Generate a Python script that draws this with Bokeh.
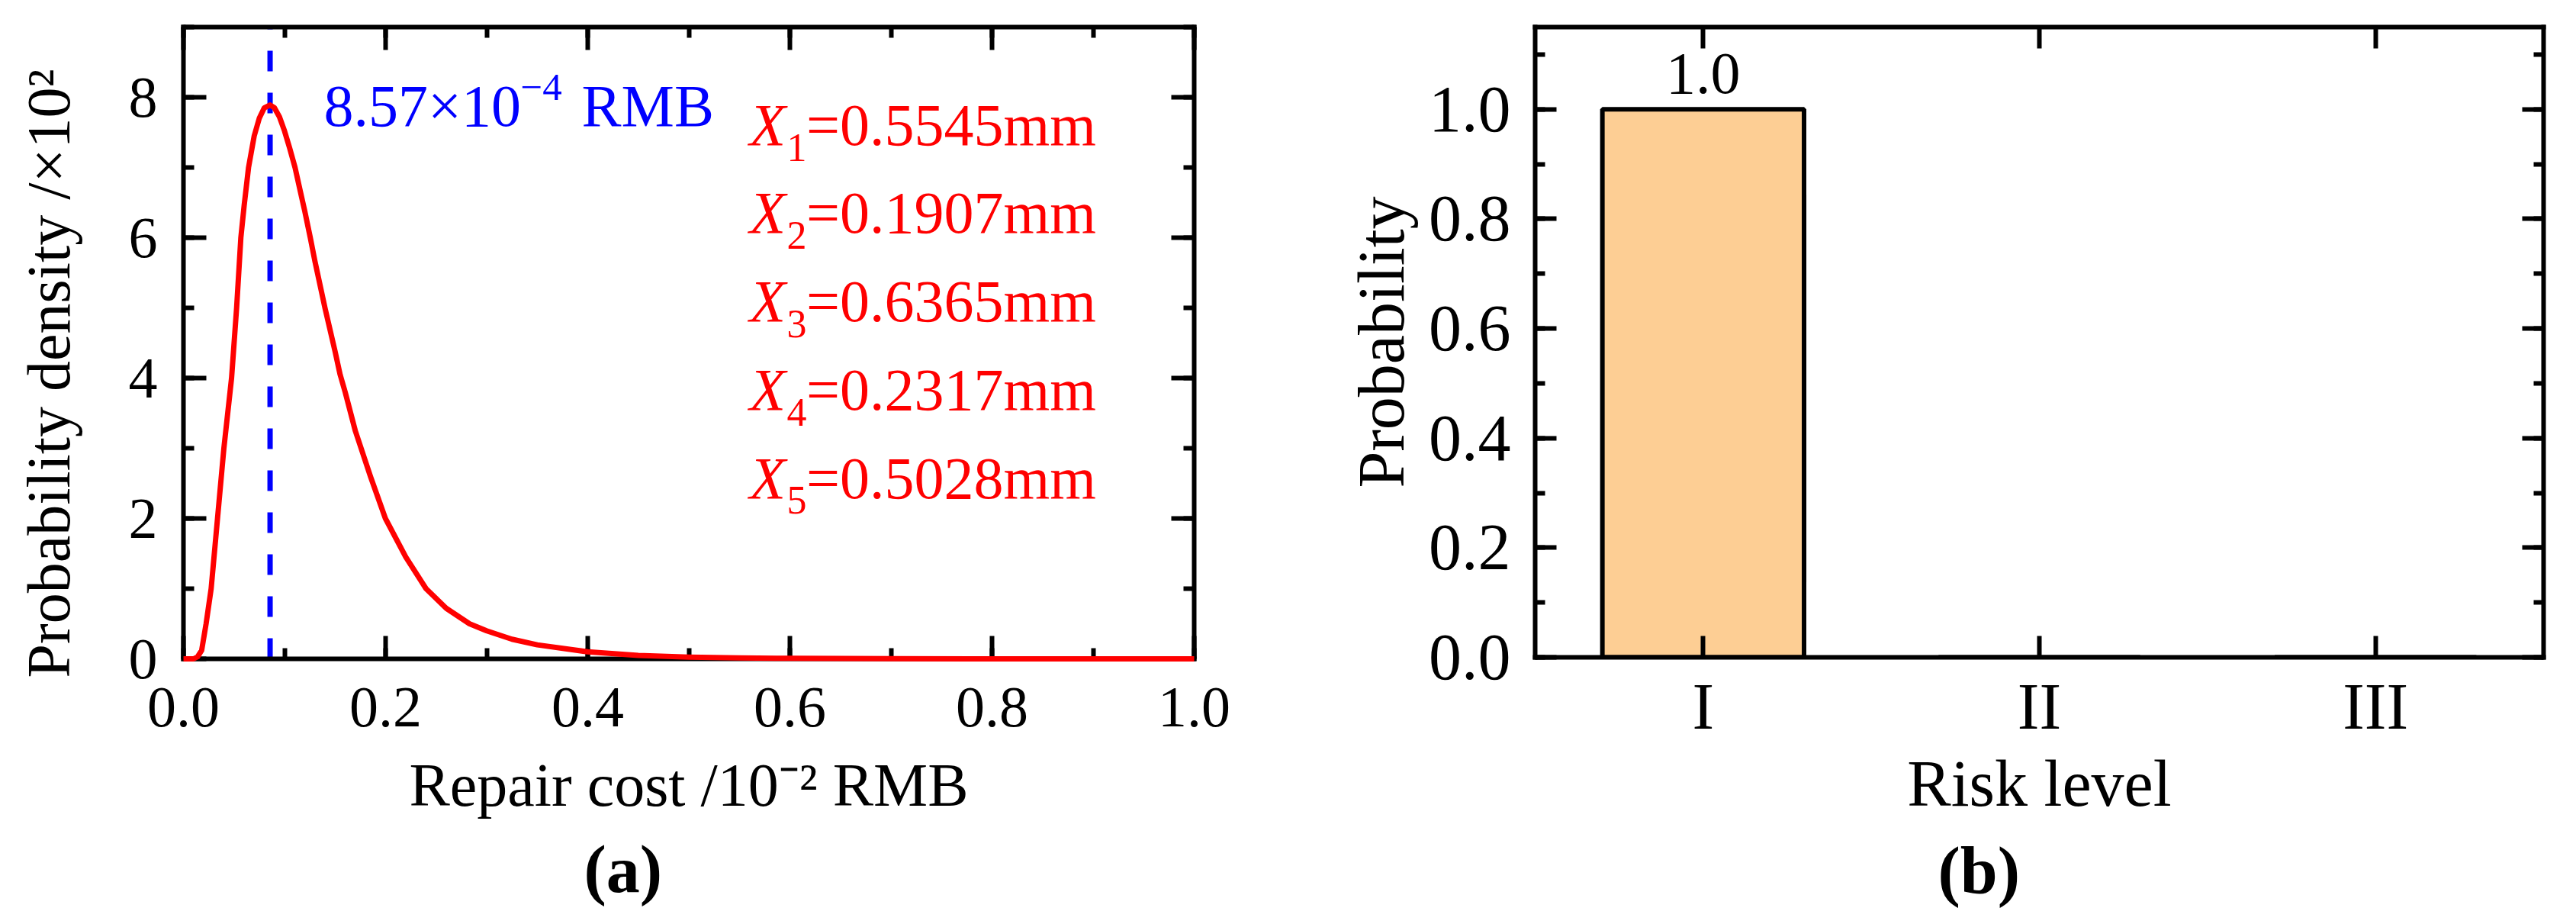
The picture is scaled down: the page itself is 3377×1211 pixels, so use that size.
from bokeh.plotting import figure
from bokeh.models import (Range1d, FactorRange, LinearAxis, CategoricalAxis, Title,
                          SingleIntervalTicker, CustomJSTickFormatter, Label)
from bokeh.layouts import row
from bokeh.embed import file_html
from bokeh.resources import INLINE

# ---------------- data ----------------
cost = [0.000, 0.010, 0.014, 0.018, 0.0224, 0.0274, 0.0337, 0.040, 0.0476, 0.0526,
        0.0568, 0.060, 0.0644, 0.070, 0.075, 0.080, 0.0857, 0.090, 0.095, 0.100,
        0.105, 0.1104, 0.115, 0.120, 0.1255, 0.130, 0.140, 0.150, 0.155, 0.160,
        0.170, 0.185, 0.1998, 0.220, 0.240, 0.260, 0.283, 0.300, 0.325, 0.350,
        0.400, 0.450, 0.500, 0.550, 0.600, 0.700, 0.800, 1.000]
density = [0.0, 0.0, 0.03, 0.12, 0.5, 1.0, 2.0, 3.0, 4.0, 5.0,
           6.0, 6.45, 7.0, 7.45, 7.70, 7.85, 7.89, 7.85, 7.72, 7.52,
           7.28, 7.0, 6.70, 6.38, 6.0, 5.67, 5.0, 4.38, 4.05, 3.80,
           3.25, 2.60, 2.0, 1.45, 1.0, 0.72, 0.5, 0.40, 0.28, 0.20,
           0.10, 0.05, 0.025, 0.013, 0.007, 0.002, 0.001, 0.0]
peak_cost = 0.0857            # x10^-2 RMB
param_index = ["1", "2", "3", "4", "5"]
param_value = ["0.5545", "0.1907", "0.6365", "0.2317", "0.5028"]

levels = ["I", "II", "III"]
probs = [1.0, 0.0, 0.0]

# ---------------- styling ----------------
FONT = "Liberation Serif"
RED = "#FF0000"
BLUE = "#0000FF"
BAR = "#FDCE94"
LW = 6
NBSP = "\u00a0"


def empty():
    return CustomJSTickFormatter(code="return ''")


def one_dec():
    return CustomJSTickFormatter(code="return tick.toFixed(1)")


def style_axis(ax, fs, tin, minin, standoff, lab_fs=None, lab_standoff=0):
    ax.axis_line_width = LW
    ax.axis_line_color = "black"
    ax.axis_line_cap = "square"
    ax.major_tick_line_width = LW
    ax.minor_tick_line_width = LW
    ax.major_tick_line_color = "black"
    ax.minor_tick_line_color = "black"
    ax.major_tick_in = tin
    ax.major_tick_out = 0
    ax.minor_tick_in = minin
    ax.minor_tick_out = 0
    ax.major_label_text_font = FONT
    ax.major_label_text_font_size = f"{fs}px"
    ax.major_label_text_color = "black"
    ax.major_label_standoff = standoff
    ax.axis_label_text_font = FONT
    ax.axis_label_text_font_style = "normal"
    ax.axis_label_text_color = "black"
    ax.axis_label_text_font_size = f"{lab_fs or fs}px"
    ax.axis_label_standoff = lab_standoff


# ---------------- (a) probability density ----------------
Y_TOP = 9
p1 = figure(frame_width=1325, frame_height=828,
            x_range=Range1d(0, 1), y_range=Range1d(0, Y_TOP),
            output_backend="svg", toolbar_location=None,
            min_border_left=240, min_border_right=130,
            min_border_top=34, min_border_bottom=345,
            outline_line_color=None, background_fill_color="white",
            border_fill_color="white")
p1.grid.visible = False

p1.xaxis[0].ticker = SingleIntervalTicker(interval=0.2, num_minor_ticks=2)
p1.xaxis[0].formatter = one_dec()
p1.yaxis[0].ticker = SingleIntervalTicker(interval=2, num_minor_ticks=2)
p1.xaxis[0].axis_label = "Repair cost /10\u207b\u00b2 RMB"
p1.yaxis[0].axis_label = "Probability density /\u00d710\u00b2" + NBSP * 4
style_axis(p1.xaxis[0], 76, 30, 14, 38, 80, 30)
style_axis(p1.yaxis[0], 76, 30, 14, 34, 80, 58)

top1 = LinearAxis(ticker=SingleIntervalTicker(interval=0.2, num_minor_ticks=2), formatter=empty())
right1 = LinearAxis(ticker=SingleIntervalTicker(interval=2, num_minor_ticks=2), formatter=empty())
style_axis(top1, 10, 30, 14, 0)
style_axis(right1, 10, 30, 14, 0)
p1.add_layout(top1, "above")
p1.add_layout(right1, "right")

p1.line([peak_cost, peak_cost], [0, Y_TOP], line_color=BLUE, line_width=7,
        line_dash="27 28")
curve = p1.line(cost, density, line_color=RED, line_width=7, line_join="round")
curve.level = "overlay"

# text anchors are corrected for the renderer's baseline handling
UY = 91.67  # px per data unit (y) in panel a


def lift(fs):
    return 0.338 * fs / UY


mant = f"{peak_cost * 100:.2f}\u00d710"
p1.add_layout(Label(x=0.1389, y=7.593 + lift(78), text=mant, text_font=FONT,
                    text_font_size="78px", text_color=BLUE, text_baseline="alphabetic"))
p1.add_layout(Label(x=0.3336, y=7.949 + lift(51), text="\u22124", text_font=FONT,
                    text_font_size="51px", text_color=BLUE, text_baseline="alphabetic"))
p1.add_layout(Label(x=0.394, y=7.593 + lift(78), text="RMB", text_font=FONT,
                    text_font_size="78px", text_color=BLUE, text_baseline="alphabetic"))

y0, dy, sub_dy = 7.325, 1.2578, 0.229
for i, (k, v) in enumerate(zip(param_index, param_value)):
    yb = y0 - i * dy
    p1.add_layout(Label(x=0.560, y=yb + lift(78), text="X", text_font=FONT,
                        text_font_style="italic", text_font_size="78px", text_color=RED,
                        text_baseline="alphabetic"))
    p1.add_layout(Label(x=0.597, y=yb - sub_dy + lift(52), text=k, text_font=FONT,
                        text_font_size="52px", text_color=RED, text_baseline="alphabetic"))
    p1.add_layout(Label(x=0.6162, y=yb + lift(78), text=f"={v}mm", text_font=FONT,
                        text_font_size="78px", text_color=RED, text_baseline="alphabetic"))

p1.add_layout(Title(text="(a)", align="left", offset=525, standoff=26,
                    text_font=FONT, text_font_size="88px", text_font_style="bold",
                    text_color="black"), "below")

# ---------------- (b) risk level probability ----------------
P_TOP = 1.15
p2 = figure(frame_width=1322, frame_height=826,
            x_range=FactorRange(*levels), y_range=Range1d(0, P_TOP),
            output_backend="svg", toolbar_location=None,
            min_border_left=317, min_border_right=30,
            min_border_top=35, min_border_bottom=346,
            outline_line_color=None, background_fill_color="white",
            border_fill_color="white")
p2.grid.visible = False

p2.yaxis[0].ticker = SingleIntervalTicker(interval=0.2, num_minor_ticks=2)
p2.yaxis[0].formatter = one_dec()
p2.xaxis[0].axis_label = "Risk level"
p2.yaxis[0].axis_label = "Probability"
style_axis(p2.xaxis[0], 86, 28, 0, 16, 86, 2)
style_axis(p2.yaxis[0], 86, 28, 13, 32, 86, 11)

top2 = CategoricalAxis(formatter=empty())
right2 = LinearAxis(ticker=SingleIntervalTicker(interval=0.2, num_minor_ticks=2), formatter=empty())
style_axis(top2, 10, 28, 0, 0)
style_axis(right2, 10, 28, 13, 0)
p2.add_layout(top2, "above")
p2.add_layout(right2, "right")

p2.vbar(x=levels, top=probs, width=0.6, fill_color=BAR, line_color="black", line_width=LW)

lab_x = [l for l, v in zip(levels, probs) if v > 0]
lab_y = [v for v in probs if v > 0]
lab_t = [f"{v:.1f}" for v in lab_y]
p2.text(x=lab_x, y=lab_y, text=lab_t, text_align="center", text_baseline="alphabetic",
        y_offset=-20 - 0.338 * 78, text_font_size="78px", text_color="black",
        text_font={"value": FONT})

p2.add_layout(Title(text="(b)", align="left", offset=528, standoff=26,
                    text_font=FONT, text_font_size="88px", text_font_style="bold",
                    text_color="black"), "below")

layout = row(p1, p2)
open("out.html", "w").write(file_html(layout, INLINE))
